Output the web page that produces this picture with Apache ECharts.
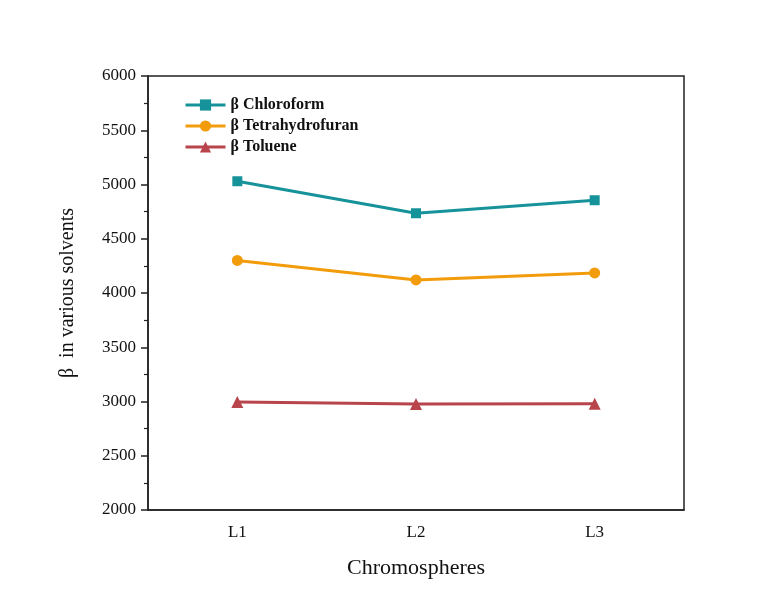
<!DOCTYPE html>
<html>
<head>
<meta charset="utf-8">
<script src="https://cdn.jsdelivr.net/npm/echarts@6/dist/echarts.min.js"></script>
<style>
  html, body { margin: 0; padding: 0; background: #fff; }
  #chart { width: 781px; height: 604px; }
</style>
</head>
<body>
<div id="chart"></div>
<script>
var categories = ['L1', 'L2', 'L3'];
var chloroform = [5030, 4735, 4855];
var tetrahydrofuran = [4300, 4120, 4185];
var toluene = [2995, 2978, 2980];

var serif = '"Liberation Serif", "DejaVu Serif", serif';

var myChart = echarts.init(document.getElementById('chart'));

function lineSeries(name, data, color, symbol, size) {
    return {
        name: name,
        type: 'line',
        data: data,
        symbol: symbol,
        symbolSize: size,
        lineStyle: { color: color, width: 3 },
        itemStyle: { color: color },
        emphasis: { disabled: true }
    };
}

var option = {
    backgroundColor: '#fff',
    animation: false,
    grid: {
        left: 148, right: 97, top: 76, bottom: 94,
        show: true,
        borderColor: '#222',
        borderWidth: 1.5
    },
    legend: {
        orient: 'vertical',
        left: 179,
        top: 92,
        itemWidth: 40,
        itemHeight: 14,
        itemGap: 5,
        lineStyle: { width: 3 },
        textStyle: { fontFamily: serif, fontWeight: 'bold', fontSize: 16, color: '#111' },
        data: ['β Chloroform', 'β Tetrahydrofuran', 'β Toluene']
    },
    xAxis: {
        type: 'category',
        data: categories,
        boundaryGap: true,
        name: 'Chromospheres',
        nameLocation: 'middle',
        nameGap: 47,
        nameTextStyle: { fontFamily: serif, fontSize: 22, color: '#111' },
        axisLine: { lineStyle: { color: '#222', width: 1.5 } },
        axisTick: { alignWithLabel: true, length: 7, lineStyle: { color: '#222', width: 1.5 } },
        axisLabel: { fontFamily: serif, fontSize: 17, color: '#111', margin: 14 },
        splitLine: { show: false }
    },
    yAxis: {
        type: 'value',
        min: 2000,
        max: 6000,
        interval: 500,
        name: 'β  in various solvents',
        nameLocation: 'middle',
        nameGap: 70,
        nameTextStyle: { fontFamily: serif, fontSize: 20, color: '#111' },
        axisLine: { show: true, lineStyle: { color: '#222', width: 1.5 } },
        axisTick: { show: true, length: 7, lineStyle: { color: '#222', width: 1.5 } },
        minorTick: { show: true, splitNumber: 2, length: 4, lineStyle: { color: '#222', width: 1.2 } },
        axisLabel: {
            fontFamily: serif, fontSize: 17, color: '#111', margin: 12,
            formatter: function (v) { return String(v); }
        },
        splitLine: { show: false }
    },
    series: [
        lineSeries('β Chloroform', chloroform, '#16939a', 'rect', 10),
        lineSeries('β Tetrahydrofuran', tetrahydrofuran, '#f29c0c', 'circle', 11),
        lineSeries('β Toluene', toluene, '#b8454b', 'triangle', 12)
    ]
};

myChart.setOption(option);
</script>
</body>
</html>
